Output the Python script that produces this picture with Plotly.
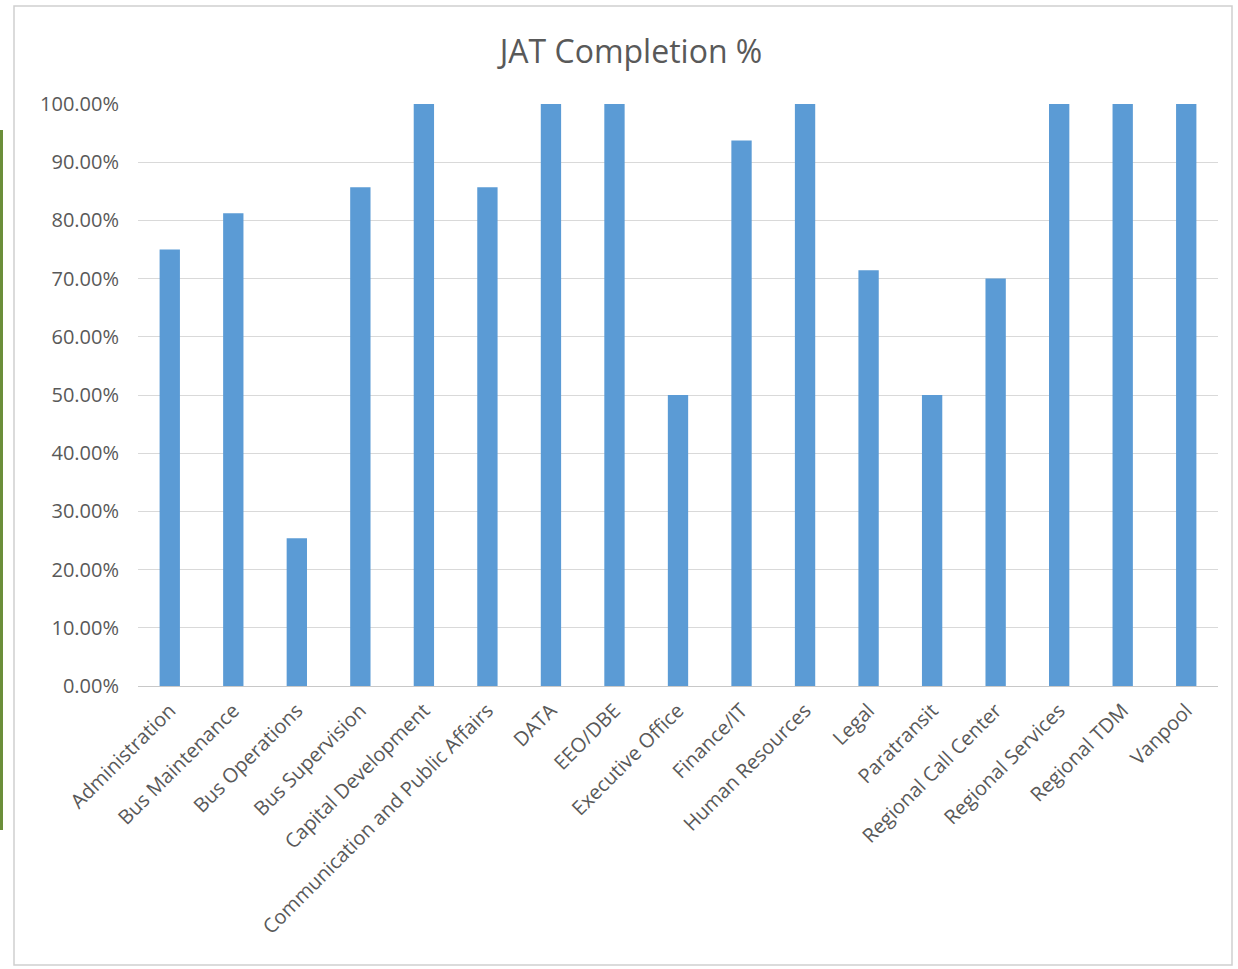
import plotly.graph_objects as go

categories = ["Administration", "Bus Maintenance", "Bus Operations", "Bus Supervision",
              "Capital Development", "Communication and Public Affairs", "DATA", "EEO/DBE",
              "Executive Office", "Finance/IT", "Human Resources", "Legal", "Paratransit",
              "Regional Call Center", "Regional Services", "Regional TDM", "Vanpool"]
completion = [0.75, 0.8125, 0.2540, 0.8571, 1.0, 0.8571, 1.0, 1.0,
              0.50, 0.9375, 1.0, 0.7143, 0.50, 0.70, 1.0, 1.0, 1.0]
y_ticks = [i / 10 for i in range(11)]

W, H = 1238, 969
L, R, T, B = 138, 20, 104, 283
pw, ph = W - L - R, H - T - B

def px(x):
    return (x - L) / pw

def py(y):
    return (H - B - y) / ph

fig = go.Figure(go.Bar(x=categories, y=completion, marker_color="#5B9BD5",
                       marker_line_width=0))

fig.update_layout(
    width=W, height=H,
    margin=dict(l=L, r=R, t=T, b=B),
    paper_bgcolor="white", plot_bgcolor="white",
    bargap=0.68,
    font=dict(family="Open Sans, Lato, sans-serif", color="#595959", size=20),
    title=dict(text="JAT Completion %", x=(631) / W, xanchor="center",
               y=1 - 52 / H, yanchor="middle",
               font=dict(size=32, color="#595959")),
    showlegend=False,
    xaxis=dict(tickangle=-45, showgrid=False, showline=True, linecolor="#C8C8C8",
               linewidth=1, ticks="", ticklabelstandoff=4,
               tickfont=dict(size=20, color="#595959")),
    yaxis=dict(range=[0, 1], tickvals=y_ticks, tickformat=".2%", showgrid=True,
               gridcolor="#D9D9D9", gridwidth=1, zeroline=False, showline=False,
               ticks="", ticklabelstandoff=18,
               tickfont=dict(size=20, color="#595959")),
    shapes=[
        dict(type="rect", xref="paper", yref="paper",
             x0=px(14), x1=px(1232), y0=py(965), y1=py(6),
             line=dict(color="#D0D0D0", width=1.5), fillcolor="rgba(0,0,0,0)", layer="below"),
        dict(type="line", xref="paper", yref="paper",
             x0=px(1.5), x1=px(1.5), y0=py(830), y1=py(130),
             line=dict(color="#6B8E3A", width=3)),
    ],
)

fig.write_html("out.html")
